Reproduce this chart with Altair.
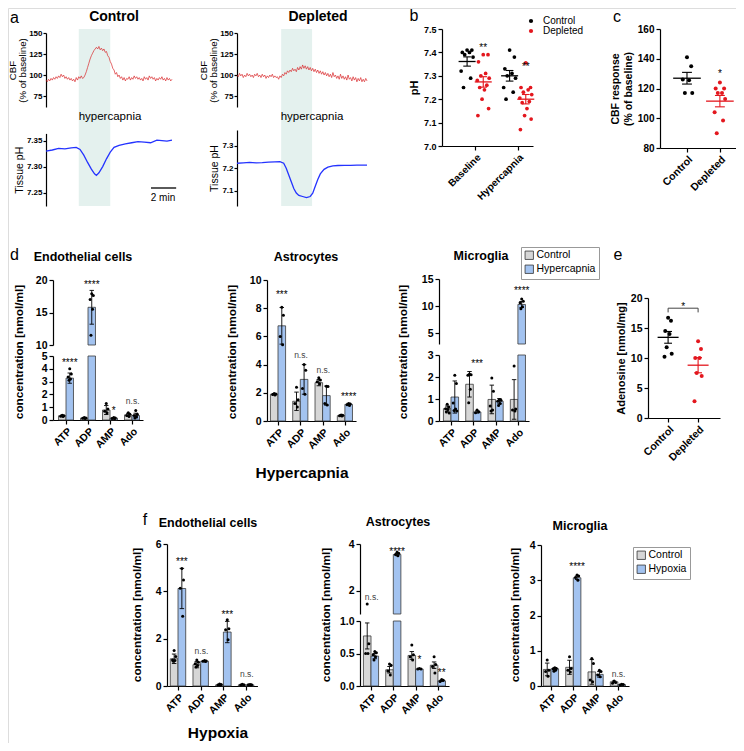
import altair as alt
import numpy as np
import pandas as pd

FONT = "Liberation Sans"
W, H = 728, 735
MARGIN = 8


def P(v):
    return v - MARGIN


GREY = "#d6d6d6"
BLUE = "#a3c3f0"
RED = "#e3171e"
CBF_RED = "#d8262a"
PH_BLUE = "#2433ff"
SHADE = "#e4f1ee"

# ---------------- panel a : traces ----------------
CBF_STEP = 0.1
CBF_CTRL = [94, 92, 95, 93, 96, 94, 97, 95, 98, 96,
            99, 97, 101, 98, 100, 96, 98, 95, 97, 94,
            96, 93, 95, 92, 97, 94, 98, 96, 99, 96,
            97, 100, 104, 109, 114, 119, 123, 126, 129, 131,
            133, 131, 134, 130, 132, 129, 131, 127, 128, 123,
            121, 116, 113, 108, 106, 101, 103, 98, 100, 96,
            98, 94, 97, 93, 96, 95, 98, 94, 97, 95,
            99, 96, 98, 95, 97, 94, 96, 93, 98, 95,
            97, 94, 99, 96, 98, 95, 97, 93, 96, 94,
            97, 95, 98, 94, 96, 93, 97, 94, 96, 93, 95]
CBF_DEP = [100, 98, 102, 99, 101, 97, 100, 98, 102, 99,
           101, 98, 100, 97, 101, 99, 102, 98, 100, 97,
           101, 98, 100, 96, 99, 97, 100, 98, 101, 97,
           99, 97, 98, 95, 99, 97, 101, 99, 103, 101,
           105, 103, 106, 104, 108, 105, 107, 104, 109, 106,
           110, 107, 112, 108, 111, 107, 110, 106, 109, 105,
           108, 104, 107, 103, 106, 102, 105, 101, 104, 100,
           103, 99, 102, 98, 101, 97, 103, 98, 100, 96,
           99, 95, 101, 96, 99, 95, 98, 94, 100, 95,
           97, 93, 98, 94, 97, 92, 96, 93, 97, 92,
           95, 92, 96, 93]
PH_CTRL_T = [0, 0.5, 1.0, 1.5, 2.0, 2.4, 2.7, 3.0, 3.3, 3.6, 3.85, 4.0, 4.2, 4.5,
             4.8, 5.1, 5.4, 5.8, 6.3, 6.8, 7.3, 7.8, 8.3, 8.8, 9.2, 9.6, 10.0]
PH_CTRL = [7.330, 7.332, 7.335, 7.334, 7.336, 7.337, 7.333, 7.322, 7.308, 7.295, 7.286,
           7.283, 7.288, 7.300, 7.315, 7.328, 7.337, 7.341, 7.344, 7.346, 7.348, 7.347,
           7.346, 7.351, 7.350, 7.349, 7.351]
PH_DEP_T = [0, 0.5, 1.0, 1.5, 2.0, 2.5, 3.0, 3.4, 3.7, 3.9, 4.1, 4.3, 4.5, 4.7, 4.9,
            5.2, 5.5, 5.8, 6.0, 6.2, 6.4, 6.6, 6.9, 7.2, 7.6, 8.0, 8.5, 9.0, 9.5, 10.0, 10.3]
PH_DEP = [7.222, 7.224, 7.226, 7.224, 7.225, 7.227, 7.228, 7.229, 7.222, 7.200, 7.170,
          7.140, 7.110, 7.090, 7.080, 7.075, 7.070, 7.075, 7.090, 7.120, 7.150, 7.175,
          7.195, 7.205, 7.210, 7.212, 7.213, 7.213, 7.214, 7.214, 7.214]
SHADE_CTRL = [2.6, 5.1]
SHADE_DEP = [3.5, 5.95]
SCALE_BAR = [8.33, 10.33]

# ---------------- panel b : pH ----------------
PH_GROUPS = ["Baseline", "Hypercapnia"]
B_BASE_CTRL = [7.41, 7.41, 7.40, 7.40, 7.39, 7.38, 7.32, 7.29, 7.25]
B_BASE_DEP = [7.39, 7.39, 7.36, 7.31, 7.30, 7.29, 7.28, 7.26, 7.25, 7.24, 7.20, 7.16, 7.13]
B_HYP_CTRL = [7.41, 7.38, 7.33, 7.31, 7.30, 7.29, 7.25, 7.23, 7.20]
B_HYP_DEP = [7.355, 7.25, 7.25, 7.24, 7.23, 7.22, 7.205, 7.19, 7.185, 7.16, 7.13, 7.115, 7.07]
B_SIG_Y = [7.43, 7.35]

# ---------------- panel c : CBF response ----------------
GROUPS = ["Control", "Depleted"]
C_CTRL = [141, 135, 126, 125.5, 117, 117]
C_DEP = [124, 120, 120, 117, 117, 113, 104, 98.5, 90]
C_SIG_Y = 131.8

# ---------------- panel e : adenosine ----------------
E_CTRL = [16.7, 16.2, 14.5, 14.0, 11.8, 10.7, 10.2]
E_DEP = [12.8, 11.5, 10.0, 10.0, 7.5, 7.0, 2.8]
E_BRACKET_Y = [17.6, 18.3]
E_SIG_Y = 19.0

# ---------------- panels d / f : nucleotides ----------------
NUCS = ["ATP", "ADP", "AMP", "Ado"]

D_ENDO_CTRL_MEAN = [0.33, 0.15, 0.78, 0.40]
D_ENDO_CTRL_ERR = [0.05, 0.04, 0.35, 0.12]
D_ENDO_CTRL_PTS = [[0.38, 0.34, 0.30, 0.28], [0.20, 0.16, 0.13, 0.11],
                   [1.29, 0.86, 0.68, 0.56], [0.56, 0.45, 0.35, 0.28]]
D_ENDO_HYP_MEAN = [3.27, 15.8, 0.15, 0.35]
D_ENDO_HYP_ERR = [0.40, 2.6, 0.04, 0.18]
D_ENDO_HYP_PTS = [[4.0, 3.6, 3.35, 3.2, 3.1], [17.9, 17.6, 17.0, 15.5, 11.5],
                  [0.20, 0.15, 0.12, 0.10], [0.75, 0.45, 0.35, 0.25, 0.15]]
D_ENDO_SIG = ["****", "****", "*", "n.s."]
D_ENDO_SIG_Y = [4.66, 19.7, 0.94, 1.5]

D_ASTRO_CTRL_MEAN = [1.9, 1.4, 2.72, 0.38]
D_ASTRO_CTRL_ERR = [0.05, 0.65, 0.22, 0.04]
D_ASTRO_CTRL_PTS = [[1.95, 1.92, 1.88, 1.85], [2.4, 1.5, 1.25, 1.0],
                    [3.06, 2.9, 2.78, 2.65], [0.42, 0.40, 0.37, 0.35]]
D_ASTRO_HYP_MEAN = [6.75, 2.95, 1.8, 1.18]
D_ASTRO_HYP_ERR = [1.3, 1.05, 0.68, 0.07]
D_ASTRO_HYP_PTS = [[8.07, 7.5, 6.0, 5.4], [4.0, 3.6, 2.3, 1.9],
                   [2.47, 2.45, 1.25, 1.13], [1.25, 1.2, 1.15, 1.1]]
D_ASTRO_SIG = ["***", "n.s.", "n.s.", "****"]
D_ASTRO_SIG_Y = [9.13, 4.66, 3.6, 1.95]

D_MICRO_CTRL_MEAN = [0.56, 1.67, 0.98, 0.98]
D_MICRO_CTRL_ERR = [0.12, 0.58, 0.65, 0.9]
D_MICRO_CTRL_PTS = [[0.76, 0.64, 0.56, 0.52, 0.41, 0.36], [2.14, 2.1, 2.08, 1.44, 0.83],
                    [1.95, 1.35, 0.68, 0.5, 0.45], [2.5, 0.55, 0.5, 0.45]]
D_MICRO_HYP_MEAN = [1.09, 0.41, 0.9, 10.3]
D_MICRO_HYP_ERR = [0.73, 0.05, 0.12, 0.55]
D_MICRO_HYP_PTS = [[2.08, 1.7, 0.82, 0.55, 0.48, 0.45], [0.5, 0.42, 0.38],
                   [0.98, 0.94, 0.9, 0.79, 0.71], [11.3, 10.9, 10.6, 9.9, 9.5]]
D_MICRO_SIG = ["", "***", "", "****"]
D_MICRO_SIG_Y = [0, 2.71, 0, 13.35]

F_ENDO_CTRL_MEAN = [1.15, 0.9, 0.05, 0.05]
F_ENDO_CTRL_ERR = [0.2, 0.13, 0.02, 0.01]
F_ENDO_CTRL_PTS = [[1.5, 1.25, 1.1, 1.08, 1.05], [1.1, 1.0, 0.94, 0.87, 0.8],
                   [0.08, 0.06, 0.04, 0.03], [0.07, 0.05, 0.04]]
F_ENDO_HYP_MEAN = [4.12, 1.05, 2.28, 0.05]
F_ENDO_HYP_ERR = [0.85, 0.02, 0.45, 0.01]
F_ENDO_HYP_PTS = [[4.97, 4.48, 4.13, 2.95], [1.08, 1.06, 1.05, 1.04],
                  [2.8, 2.42, 2.38, 1.95], [0.06, 0.05, 0.05, 0.04]]
F_ENDO_SIG = ["***", "n.s.", "***", "n.s."]
F_ENDO_SIG_Y = [5.37, 1.48, 3.13, 0.5]

F_ASTRO_CTRL_MEAN = [0.77, 0.25, 0.47, 0.32]
F_ASTRO_CTRL_ERR = [0.2, 0.05, 0.06, 0.05]
F_ASTRO_CTRL_PTS = [[1.43, 0.65, 0.5, 0.5], [0.34, 0.32, 0.23, 0.17],
                    [0.63, 0.48, 0.45, 0.4], [0.45, 0.33, 0.3, 0.2]]
F_ASTRO_HYP_MEAN = [0.46, 3.55, 0.26, 0.08]
F_ASTRO_HYP_ERR = [0.04, 0.05, 0.005, 0.01]
F_ASTRO_HYP_PTS = [[0.53, 0.51, 0.48, 0.45, 0.4], [3.65, 3.6, 3.55, 3.5],
                   [0.27, 0.26, 0.26], [0.1, 0.09, 0.07]]
F_ASTRO_SIG = ["n.s.", "****", "*", "**"]
F_ASTRO_SIG_Y = [1.71, 3.8, 0.44, 0.24]

F_MICRO_CTRL_MEAN = [0.47, 0.53, 0.4, 0.12]
F_MICRO_CTRL_ERR = [0.18, 0.2, 0.35, 0.02]
F_MICRO_CTRL_PTS = [[0.74, 0.45, 0.41, 0.28], [0.83, 0.5, 0.45, 0.4],
                    [0.78, 0.64, 0.17, 0.12], [0.14, 0.1, 0.08]]
F_MICRO_HYP_MEAN = [0.49, 3.07, 0.33, 0.04]
F_MICRO_HYP_ERR = [0.03, 0.05, 0.08, 0.01]
F_MICRO_HYP_PTS = [[0.52, 0.5, 0.48, 0.45, 0.42], [3.15, 3.12, 3.08, 3.0],
                   [0.45, 0.41, 0.31, 0.26], [0.05, 0.04, 0.03]]
F_MICRO_SIG = ["", "****", "", "n.s."]
F_MICRO_SIG_Y = [0, 3.46, 0, 0.33]

# horizontal spread pattern for dots inside a group
JIT = [0.0, 0.8, -0.8, 0.4, -0.4, 1.0, -1.0, 0.6, -0.6, 0.2, -0.2, 0.9, -0.9]


# ---------------- helpers ----------------
def qs(domain, r0, r1, clamp=False):
    return alt.Scale(domain=domain, range=[P(r0), P(r1)], nice=False, zero=False, clamp=clamp)


def yax(x_page, values, fmt=None, size=10.5, title=None, tsize=11, tbold=True, lbold=True,
        tick=4, lpad=2, tpad=4, tline=None):
    kw = dict(orient="left", offset=-P(x_page), values=values, grid=False,
              domainColor="black", tickColor="black", labelColor="black",
              domainWidth=1.2, tickWidth=1.2, tickSize=tick, labelPadding=lpad,
              labelFont=FONT, labelFontSize=size, labelOverlap=False, labelFlush=False,
              labelFontWeight="bold" if lbold else "normal", title=title)
    if fmt:
        kw["format"] = fmt
    if title is not None:
        kw.update(titleFont=FONT, titleFontSize=tsize, titleColor="black", titlePadding=tpad,
                  titleFontWeight="bold" if tbold else "normal")
        if tline:
            kw["titleLineHeight"] = tline
    return alt.Axis(**kw)


def xax(y_page, names, size=10.5):
    expr = "[" + ",".join("'%s'" % n for n in names) + "][round(datum.value)]"
    return alt.Axis(orient="bottom", offset=P(y_page) - H, values=list(range(len(names))),
                    labelExpr=expr, labelAngle=-45, grid=False, title=None,
                    domainColor="black", tickColor="black", labelColor="black",
                    domainWidth=1.2, tickWidth=1.2, tickSize=4, labelPadding=2,
                    labelFont=FONT, labelFontSize=size, labelFontWeight="bold",
                    labelOverlap=False, labelFlush=False)


def label(text, x, y, size=12, bold=False, angle=0, align="center", color="black"):
    kw = dict(text=text, font=FONT, fontSize=size, fontWeight="bold" if bold else "normal",
              align=align, baseline="middle", color=color)
    if angle:
        kw["angle"] = angle
    return alt.Chart(pd.DataFrame({"k": [0]})).mark_text(**kw).encode(
        x=alt.value(P(x)), y=alt.value(P(y)))


def trace(t, v, xs, ys, yaxis, color, width):
    df = pd.DataFrame({"t": t, "v": v})
    return alt.Chart(df).mark_line(color=color, strokeWidth=width).encode(
        x=alt.X("t:Q", scale=xs, axis=None), y=alt.Y("v:Q", scale=ys, axis=yaxis))


def shade(span, xs):
    df = pd.DataFrame({"t0": [span[0]], "t1": [span[1]]})
    return alt.Chart(df).mark_rect(color=SHADE).encode(
        x=alt.X("t0:Q", scale=xs, axis=None), x2="t1", y=alt.value(P(29)), y2=alt.value(P(206)))


# ---------------- panel a ----------------
xs_ac = qs([0, 10], 46, 172)
xs_ad = qs([0, 10.3], 237, 367)
t_ctrl = np.round(np.arange(len(CBF_CTRL)) * CBF_STEP, 2)
t_dep = np.round(np.arange(len(CBF_DEP)) * CBF_STEP, 2)

cbf_title = ["CBF", "(% of baseline)"]


def cbf_axis(x):
    return yax(x, [75, 100, 125, 150], size=8, title=cbf_title, tsize=9.7, tbold=False,
               tick=3, lpad=1, tpad=1, tline=10)


def ph_axis(x, vals, fmt):
    return yax(x, vals, fmt=fmt, size=8, title="Tissue pH", tsize=10.5, tbold=False,
               tick=3, lpad=1, tpad=2)


a_ctrl_cbf = alt.layer(
    shade(SHADE_CTRL, xs_ac),
    trace(t_ctrl, CBF_CTRL, xs_ac, qs([62, 150], 107, 33), cbf_axis(46), CBF_RED, 0.7))
sb = pd.DataFrame({"t0": [SCALE_BAR[0]], "t1": [SCALE_BAR[1]]})
a_ctrl_ph = alt.layer(
    trace(PH_CTRL_T, PH_CTRL, xs_ac, qs([7.224, 7.364], 206, 133.4),
          ph_axis(46, [7.25, 7.30, 7.35], ".2f"), PH_BLUE, 1.3),
    alt.Chart(sb).mark_rule(color="black", strokeWidth=1.3).encode(
        x=alt.X("t0:Q", scale=xs_ac, axis=None), x2="t1", y=alt.value(P(188))))
a_dep_cbf = alt.layer(
    shade(SHADE_DEP, xs_ad),
    trace(t_dep, CBF_DEP, xs_ad, qs([62, 150], 107, 33), cbf_axis(237), CBF_RED, 0.7))
a_dep_ph = trace(PH_DEP_T, PH_DEP, xs_ad, qs([7.033, 7.369], 206, 130),
                 ph_axis(237, [7.1, 7.2, 7.3], ".1f"), PH_BLUE, 1.3)


# ---------------- scatter panels (b, c, e) ----------------
def scatter(groups, xs, ys, xaxis, yaxis, cdomain, legend, size, hw, cw, jamp):
    prow, mrow, erow, crow = [], [], [], []
    for cx, g, vals in groups:
        for j, v in enumerate(vals):
            prow.append(dict(x=cx + JIT[j % len(JIT)] * jamp, v=v, g=g))
        arr = np.array(vals, dtype=float)
        mean = arr.mean()
        sem = arr.std(ddof=1) / np.sqrt(len(arr))
        mrow.append(dict(x0=cx - hw, x1=cx + hw, y=mean, g=g))
        erow.append(dict(x=cx, lo=mean - sem, hi=mean + sem, g=g))
        crow.append(dict(x0=cx - cw, x1=cx + cw, y=mean - sem, g=g))
        crow.append(dict(x0=cx - cw, x1=cx + cw, y=mean + sem, g=g))
    cs = alt.Scale(domain=cdomain, range=["black", RED])
    pts = alt.Chart(pd.DataFrame(prow)).mark_circle(size=size, opacity=1).encode(
        x=alt.X("x:Q", scale=xs, axis=xaxis), y=alt.Y("v:Q", scale=ys, axis=yaxis),
        color=alt.Color("g:N", scale=cs, legend=legend))
    means = alt.Chart(pd.DataFrame(mrow)).mark_rule(strokeWidth=1.3).encode(
        x=alt.X("x0:Q", scale=xs, axis=xaxis), x2="x1", y=alt.Y("y:Q", scale=ys, axis=yaxis),
        color=alt.Color("g:N", scale=cs, legend=None))
    errs = alt.Chart(pd.DataFrame(erow)).mark_rule(strokeWidth=1.1).encode(
        x=alt.X("x:Q", scale=xs, axis=xaxis), y=alt.Y("lo:Q", scale=ys, axis=yaxis), y2="hi",
        color=alt.Color("g:N", scale=cs, legend=None))
    caps = alt.Chart(pd.DataFrame(crow)).mark_rule(strokeWidth=1.1).encode(
        x=alt.X("x0:Q", scale=xs, axis=xaxis), x2="x1", y=alt.Y("y:Q", scale=ys, axis=yaxis),
        color=alt.Color("g:N", scale=cs, legend=None))
    return [pts, means, errs, caps]


# panel b
xs_b = qs([-0.78, 1.36], 442, 533)
ys_b = qs([7.0, 7.5], 146, 29)
xa_b = xax(146, PH_GROUPS, size=10)
ya_b = yax(442, [7.0, 7.1, 7.2, 7.3, 7.4, 7.5], fmt=".1f", size=9, title="pH", tsize=11)
leg_b = alt.Legend(orient="none", legendX=P(526), legendY=P(16), title=None, symbolType="circle",
                   symbolSize=18, labelFont=FONT, labelFontSize=10, labelColor="black",
                   rowPadding=0, labelOffset=7, symbolStrokeWidth=0)
b_layers = scatter([(0 - 0.19, "Control", B_BASE_CTRL), (0 + 0.19, "Depleted", B_BASE_DEP),
                    (1 - 0.19, "Control", B_HYP_CTRL), (1 + 0.19, "Depleted", B_HYP_DEP)],
                   xs_b, ys_b, xa_b, ya_b, GROUPS, leg_b, 14, 0.2, 0.09, 0.14)
b_sig = alt.Chart(pd.DataFrame({"x": [0.19, 1.19], "y": B_SIG_Y})).mark_text(
    text="**", font=FONT, fontSize=10, color="black", dy=3).encode(
    x=alt.X("x:Q", scale=xs_b, axis=xa_b), y=alt.Y("y:Q", scale=ys_b, axis=ya_b))
b_panel = alt.layer(*b_layers, b_sig)

# panel c
xs_c = qs([-0.82, 1.52], 660, 737)
ys_c = qs([80, 160], 148, 29)
xa_c = xax(148, GROUPS, size=10.5)
ya_c = yax(660, [80, 100, 120, 140, 160], size=10,
           title=["CBF response", "(% of baseline)"], tsize=10.5)
c_layers = scatter([(0, "Control", C_CTRL), (1, "Depleted", C_DEP)],
                   xs_c, ys_c, xa_c, ya_c, GROUPS, None, 16, 0.42, 0.15, 0.16)
c_sig = alt.Chart(pd.DataFrame({"x": [1.0], "y": [C_SIG_Y]})).mark_text(
    text="*", font=FONT, fontSize=10, color="black", dy=3).encode(
    x=alt.X("x:Q", scale=xs_c, axis=xa_c), y=alt.Y("y:Q", scale=ys_c, axis=ya_c))
c_panel = alt.layer(*c_layers, c_sig)

# panel e
xs_e = qs([-0.67, 1.73], 648, 720)
ys_e = qs([0, 20], 418, 298)
xa_e = xax(418, GROUPS, size=10.5)
ya_e = yax(648, [0, 5, 10, 15, 20], size=10.5, title="Adenosine [nmol/mg]", tsize=11)
e_layers = scatter([(0, "Control", E_CTRL), (1, "Depleted", E_DEP)],
                   xs_e, ys_e, xa_e, ya_e, GROUPS, None, 16, 0.35, 0.13, 0.12)
br_h = pd.DataFrame({"x0": [0.0], "x1": [1.0], "y": [E_BRACKET_Y[1]]})
br_v = pd.DataFrame({"x": [0.0, 1.0], "lo": [E_BRACKET_Y[0]] * 2, "hi": [E_BRACKET_Y[1]] * 2})
e_br1 = alt.Chart(br_h).mark_rule(color="#444", strokeWidth=1).encode(
    x=alt.X("x0:Q", scale=xs_e, axis=xa_e), x2="x1", y=alt.Y("y:Q", scale=ys_e, axis=ya_e))
e_br2 = alt.Chart(br_v).mark_rule(color="#444", strokeWidth=1).encode(
    x=alt.X("x:Q", scale=xs_e, axis=xa_e), y=alt.Y("lo:Q", scale=ys_e, axis=ya_e), y2="hi")
e_sig = alt.Chart(pd.DataFrame({"x": [0.5], "y": [E_SIG_Y]})).mark_text(
    text="*", font=FONT, fontSize=10, color="black", dy=3).encode(
    x=alt.X("x:Q", scale=xs_e, axis=xa_e), y=alt.Y("y:Q", scale=ys_e, axis=ya_e))
e_panel = alt.layer(*e_layers, e_br1, e_br2, e_sig)


# ---------------- bar panels (d, f) ----------------
def bar_panel(names, cm, ce, cp, hm, he, hp, sig, sig_y, axis_x, c0, sp, segs, legend_at=None):
    xlo = (axis_x - c0) / sp
    xs = qs([xlo, 3.5], axis_x, c0 + 3.5 * sp)
    fscale = alt.Scale(domain=names, range=[GREY, BLUE])
    bw = 0.34
    brow, prow = [], []
    for i in range(4):
        for g, m, e, pv, x0 in ((names[0], cm[i], ce[i], cp[i], i - bw),
                                (names[1], hm[i], he[i], hp[i], i)):
            xc = x0 + bw / 2
            brow.append(dict(g=g, x0=x0, x1=x0 + bw, xc=xc, m=m, lo=m - e, hi=m + e, base=0.0,
                             c0=xc - 0.1, c1=xc + 0.1))
            for j, v in enumerate(pv):
                prow.append(dict(x=xc + JIT[j % len(JIT)] * 0.09, v=v))
    bars = pd.DataFrame(brow)
    pts = pd.DataFrame(prow)
    srow = [dict(x=i + (0.03 if s == "n.s." else 0.17), y=y, t=s)
            for i, (s, y) in enumerate(zip(sig, sig_y)) if s]
    sigs = pd.DataFrame(srow)
    out = []
    for k, sg in enumerate(segs):
        lo, hi = sg["dom"]
        ys = qs([lo, hi], sg["bot"], sg["top"], clamp=True)
        ya = yax(axis_x, sg["ticks"], sg.get("fmt"), size=10.5)
        xa = xax(sg["bot"], NUCS) if sg.get("xaxis") else None
        if legend_at is not None and k == 0:
            leg = alt.Legend(orient="none", legendX=P(legend_at[0]), legendY=P(legend_at[1]),
                             title=None, symbolType="square", symbolSize=70,
                             symbolStrokeColor="#333", symbolStrokeWidth=0.8,
                             labelFont=FONT, labelFontSize=10.5, labelColor="black",
                             strokeColor="#999", padding=3, rowPadding=1, labelOffset=2)
        else:
            leg = None
        layers = []
        bsel = bars[bars.m > lo]
        if len(bsel):
            layers.append(alt.Chart(bsel).mark_bar(stroke="#3a3a3a", strokeWidth=0.8).encode(
                x=alt.X("x0:Q", scale=xs, axis=xa), x2="x1",
                y=alt.Y("m:Q", scale=ys, axis=ya), y2="base",
                fill=alt.Fill("g:N", scale=fscale, legend=leg)))
        esel = bars[(bars.m >= lo) & (bars.m <= hi) & (bars.hi > bars.lo + 0.015)]
        if len(esel):
            layers.append(alt.Chart(esel).mark_rule(color="black", strokeWidth=0.9).encode(
                x=alt.X("xc:Q", scale=xs, axis=xa), y=alt.Y("lo:Q", scale=ys, axis=ya), y2="hi"))
            caps = pd.concat([esel[["c0", "c1"]].assign(y=esel.lo.values),
                              esel[["c0", "c1"]].assign(y=esel.hi.values)])
            layers.append(alt.Chart(caps).mark_rule(color="black", strokeWidth=0.9).encode(
                x=alt.X("c0:Q", scale=xs, axis=xa), x2="c1", y=alt.Y("y:Q", scale=ys, axis=ya)))
        psel = pts[(pts.v >= lo) & (pts.v <= hi)]
        if len(psel):
            layers.append(alt.Chart(psel).mark_circle(size=9, opacity=1, color="black").encode(
                x=alt.X("x:Q", scale=xs, axis=xa), y=alt.Y("v:Q", scale=ys, axis=ya)))
        if len(sigs):
            ssel = sigs[(sigs.y >= lo) & (sigs.y <= hi)]
            st = ssel[ssel.t != "n.s."]
            ns = ssel[ssel.t == "n.s."]
            if len(st):
                layers.append(alt.Chart(st).mark_text(font=FONT, fontSize=10, color="black", dy=3).encode(
                    x=alt.X("x:Q", scale=xs, axis=xa), y=alt.Y("y:Q", scale=ys, axis=ya),
                    text="t:N"))
            if len(ns):
                layers.append(alt.Chart(ns).mark_text(font=FONT, fontSize=8.5, color="#444").encode(
                    x=alt.X("x:Q", scale=xs, axis=xa), y=alt.Y("y:Q", scale=ys, axis=ya),
                    text="t:N"))
        out.append(alt.layer(*layers))
    return out


HC = ["Control", "Hypercapnia"]
HX = ["Control", "Hypoxia"]

d_endo = bar_panel(HC, D_ENDO_CTRL_MEAN, D_ENDO_CTRL_ERR, D_ENDO_CTRL_PTS,
                   D_ENDO_HYP_MEAN, D_ENDO_HYP_ERR, D_ENDO_HYP_PTS, D_ENDO_SIG, D_ENDO_SIG_Y,
                   53, 66, 22,
                   [dict(dom=[0, 5], bot=420, top=356, ticks=[0, 1, 2, 3, 4, 5], xaxis=True),
                    dict(dom=[10, 20], bot=345, top=280, ticks=[10, 15, 20])])
d_astro = bar_panel(HC, D_ASTRO_CTRL_MEAN, D_ASTRO_CTRL_ERR, D_ASTRO_CTRL_PTS,
                    D_ASTRO_HYP_MEAN, D_ASTRO_HYP_ERR, D_ASTRO_HYP_PTS, D_ASTRO_SIG, D_ASTRO_SIG_Y,
                    267, 278, 22.3,
                    [dict(dom=[0, 10], bot=421, top=280, ticks=[0, 2, 4, 6, 8, 10], xaxis=True)])
d_micro = bar_panel(HC, D_MICRO_CTRL_MEAN, D_MICRO_CTRL_ERR, D_MICRO_CTRL_PTS,
                    D_MICRO_HYP_MEAN, D_MICRO_HYP_ERR, D_MICRO_HYP_PTS, D_MICRO_SIG, D_MICRO_SIG_Y,
                    439, 451, 22.3,
                    [dict(dom=[0, 3], bot=421, top=355, ticks=[0, 1, 2, 3], xaxis=True),
                     dict(dom=[3, 15], bot=344, top=279, ticks=[5, 10, 15])],
                    legend_at=(521, 247))
f_endo = bar_panel(HX, F_ENDO_CTRL_MEAN, F_ENDO_CTRL_ERR, F_ENDO_CTRL_PTS,
                   F_ENDO_HYP_MEAN, F_ENDO_HYP_ERR, F_ENDO_HYP_PTS, F_ENDO_SIG, F_ENDO_SIG_Y,
                   167, 178, 22.7,
                   [dict(dom=[0, 6], bot=686, top=544, ticks=[0, 2, 4, 6], xaxis=True)])
f_astro = bar_panel(HX, F_ASTRO_CTRL_MEAN, F_ASTRO_CTRL_ERR, F_ASTRO_CTRL_PTS,
                    F_ASTRO_HYP_MEAN, F_ASTRO_HYP_ERR, F_ASTRO_HYP_PTS, F_ASTRO_SIG, F_ASTRO_SIG_Y,
                    360, 371, 22.3,
                    [dict(dom=[0, 1], bot=686, top=621, ticks=[0, 0.5, 1.0], fmt=".1f", xaxis=True),
                     dict(dom=[1, 4], bot=614, top=544, ticks=[2, 4])])
f_micro = bar_panel(HX, F_MICRO_CTRL_MEAN, F_MICRO_CTRL_ERR, F_MICRO_CTRL_PTS,
                    F_MICRO_HYP_MEAN, F_MICRO_HYP_ERR, F_MICRO_HYP_PTS, F_MICRO_SIG, F_MICRO_SIG_Y,
                    541, 551, 22.3,
                    [dict(dom=[0, 4], bot=686, top=545, ticks=[0, 1, 2, 3, 4], xaxis=True)],
                    legend_at=(633, 547))

# ---------------- text ----------------
texts = [
    label("a", 10, 18, size=16, align="left"),
    label("b", 414, 16, size=16),
    label("c", 617, 17, size=16),
    label("d", 10, 255, size=16, align="left"),
    label("e", 618, 255, size=16),
    label("f", 145, 520, size=16),
    label("Control", 114, 17, size=14, bold=True),
    label("Depleted", 318, 17, size=14, bold=True),
    label("hypercapnia", 110, 117, size=11.5),
    label("hypercapnia", 312, 117, size=11.5),
    label("2 min", 163, 198, size=10),
    label("Endothelial cells", 83, 257, size=12.5, bold=True),
    label("Astrocytes", 306, 257, size=12.5, bold=True),
    label("Microglia", 481, 256, size=12.5, bold=True),
    label("Endothelial cells", 208, 523, size=12.5, bold=True),
    label("Astrocytes", 398, 522, size=12.5, bold=True),
    label("Microglia", 580, 526, size=12.5, bold=True),
    label("Hypercapnia", 302, 473, size=15.5, bold=True),
    label("Hypoxia", 218, 733, size=15.5, bold=True),
]
for (x, y) in [(19, 352), (232, 352), (403, 352), (137, 615), (326, 615), (515, 615)]:
    texts.append(label("concentration [nmol/ml]", x, y, size=11.8, bold=True, angle=270))

children = ([a_ctrl_cbf, a_ctrl_ph, a_dep_cbf, a_dep_ph, b_panel, c_panel]
            + d_endo + d_astro + d_micro + [e_panel] + f_endo + f_astro + f_micro + texts)

chart = alt.layer(*children).resolve_scale(
    x="independent", y="independent", color="independent", fill="independent"
).properties(width=W, height=H, padding=0, autosize="none").configure_view(
    stroke=None).configure(font=FONT)

chart.save("out.html", embed_options={"renderer": "svg", "actions": False})
